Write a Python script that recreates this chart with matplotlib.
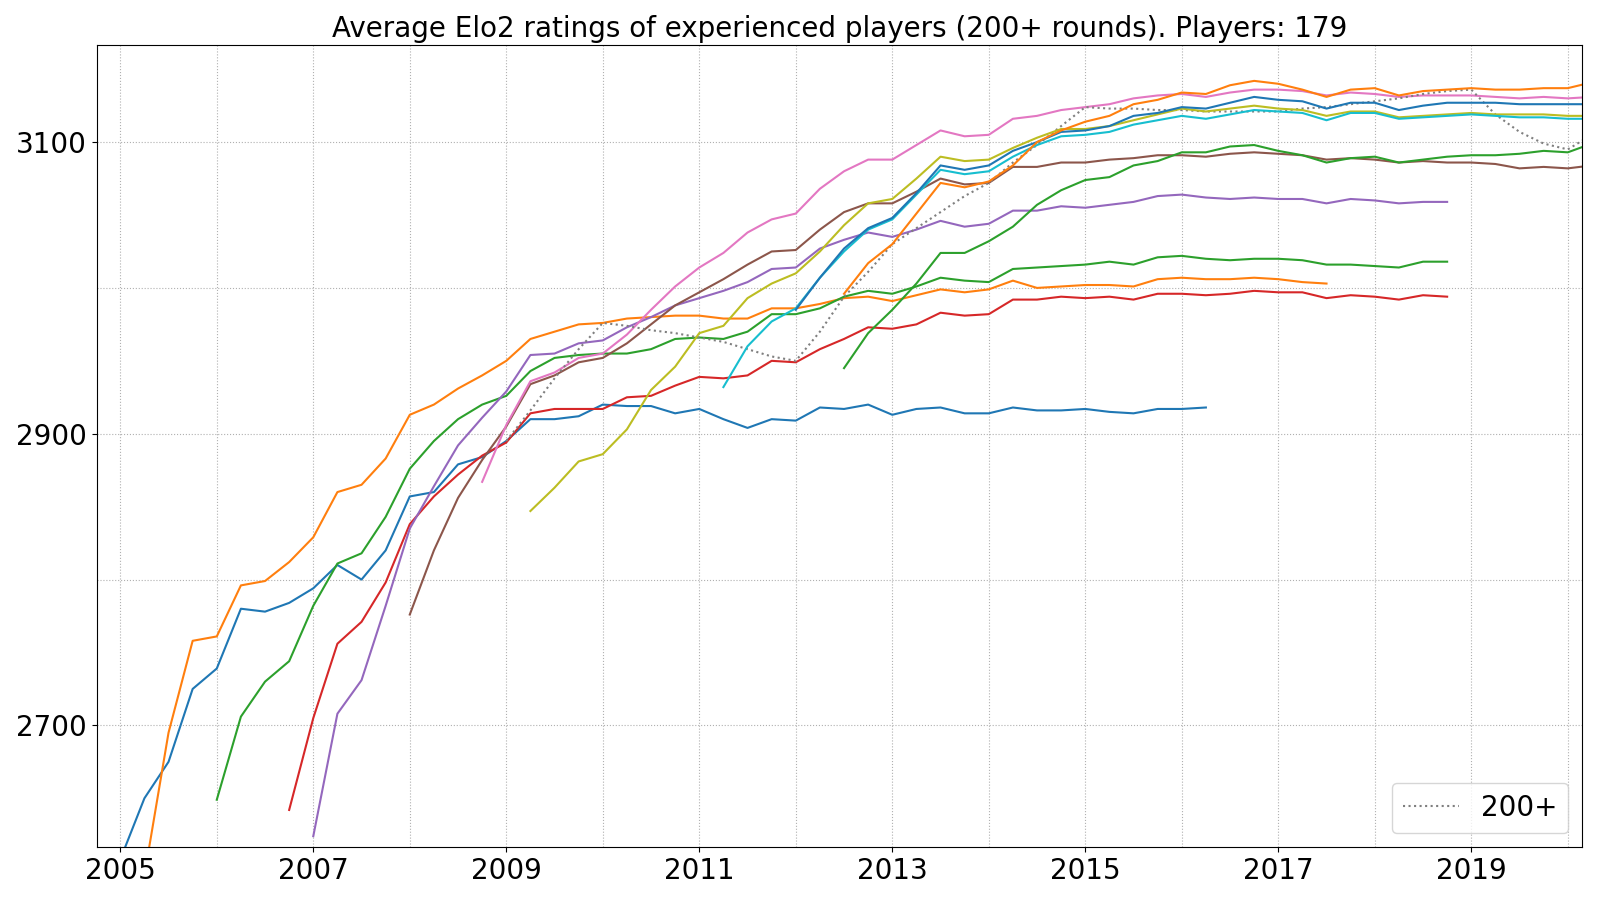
import numpy as np
import matplotlib
matplotlib.use('Agg')
import matplotlib.pyplot as plt
from matplotlib.ticker import MultipleLocator

TITLE = 'Average Elo2 ratings of experienced players (200+ rounds). Players: 179'

# quarterly ratings, each series: (first quarter, values)
blue_1_start = 2005.0
blue_1 = [2608, 2650, 2675, 2725, 2739, 2780, 2778, 2784, 2794, 2810, 2800, 2820,
          2857, 2860, 2879, 2884, 2895, 2910, 2910, 2912, 2920, 2919, 2919, 2914,
          2917, 2910, 2904, 2910, 2909, 2918, 2917, 2920, 2913, 2917, 2918, 2914,
          2914, 2918, 2916, 2916, 2917, 2915, 2914, 2917, 2917, 2918]

orange_1_start = 2005.25
orange_1 = [2597, 2695, 2758, 2761, 2796, 2799, 2812, 2829, 2860, 2865, 2883,
            2913, 2920, 2931, 2940, 2950, 2965, 2970, 2975, 2976, 2979, 2980, 2981,
            2981, 2979, 2979, 2986, 2986, 2989, 2993, 2994, 2991, 2995, 2999, 2997,
            2999, 3005, 3000, 3001, 3002, 3002, 3001, 3006, 3007, 3006, 3006, 3007,
            3006, 3004, 3003]

green_1_start = 2006.0
green_1 = [2649, 2706, 2730, 2744, 2782, 2811, 2818, 2843, 2876, 2895, 2910, 2920,
           2926, 2943, 2952, 2954, 2955, 2955, 2958, 2965, 2966, 2965, 2970, 2982,
           2982, 2986, 2994, 2998, 2996, 3001, 3007, 3005, 3004, 3013, 3014, 3015,
           3016, 3018, 3016, 3021, 3022, 3020, 3019, 3020, 3020, 3019, 3016, 3016,
           3015, 3014, 3018, 3018]

red_start = 2006.75
red = [2642, 2705, 2756, 2771, 2798, 2838, 2857, 2872, 2885, 2894, 2914, 2917,
       2917, 2917, 2925, 2926, 2933, 2939, 2938, 2940, 2950, 2949, 2958, 2965,
       2973, 2972, 2975, 2983, 2981, 2982, 2992, 2992, 2994, 2993, 2994, 2992,
       2996, 2996, 2995, 2996, 2998, 2997, 2997, 2993, 2995, 2994, 2992, 2995, 2994]

purple_start = 2007.0
purple = [2624, 2708, 2731, 2782, 2835, 2864, 2892, 2911, 2929, 2954, 2955, 2962,
          2964, 2973, 2980, 2988, 2993, 2998, 3004, 3013, 3014, 3027, 3033, 3038,
          3035, 3040, 3046, 3042, 3044, 3053, 3053, 3056, 3055, 3057, 3059, 3063,
          3064, 3062, 3061, 3062, 3061, 3061, 3058, 3061, 3060, 3058, 3059, 3059]

brown_start = 2008.0
brown = [2776, 2820, 2856, 2882, 2905, 2934, 2940, 2949, 2952, 2962, 2975, 2988,
         2997, 3006, 3016, 3025, 3026, 3040, 3052, 3058, 3058, 3066, 3075, 3071,
         3072, 3083, 3083, 3086, 3086, 3088, 3089, 3091, 3091, 3090, 3092, 3093,
         3092, 3091, 3088, 3089, 3088, 3086, 3087, 3086, 3086, 3085, 3082, 3083,
         3082, 3084]

pink_start = 2008.75
pink = [2867, 2906, 2936, 2942, 2952, 2955, 2968, 2985, 3001, 3014, 3024, 3038,
        3047, 3051, 3068, 3080, 3088, 3088, 3098, 3108, 3104, 3105, 3116, 3118,
        3122, 3124, 3126, 3130, 3132, 3133, 3131, 3134, 3136, 3136, 3135, 3132,
        3134, 3133, 3131, 3132, 3132, 3132, 3131, 3130, 3131, 3130, 3131]

avg_start = 2009.0
avg_200 = [2895, 2916, 2938, 2958, 2976, 2974, 2971, 2969, 2966, 2963, 2958, 2953,
           2950, 2970, 2994, 3011, 3030, 3041, 3052, 3063, 3072, 3086, 3098, 3111,
           3124, 3123, 3123, 3122, 3122, 3121, 3121, 3121, 3121, 3123, 3124, 3126,
           3128, 3130, 3133, 3135, 3136, 3119, 3107, 3099, 3095, 3105]

olive_start = 2009.25
olive = [2847, 2863, 2881, 2886, 2903, 2930, 2946, 2969, 2974, 2993, 3003, 3010,
         3025, 3043, 3058, 3061, 3075, 3090, 3087, 3088, 3096, 3103, 3109, 3109,
         3111, 3115, 3119, 3123, 3121, 3123, 3125, 3123, 3122, 3118, 3121, 3121,
         3117, 3118, 3119, 3120, 3119, 3119, 3119, 3118, 3118]

cyan_start = 2011.25
cyan = [2932, 2960, 2977, 2986, 3007, 3025, 3040, 3047, 3064, 3081, 3078, 3080,
        3090, 3098, 3104, 3105, 3107, 3112, 3115, 3118, 3116, 3119, 3122, 3121,
        3120, 3115, 3120, 3120, 3116, 3117, 3118, 3119, 3118, 3117, 3117, 3116, 3116]

blue_2_start = 2012.0
blue_2 = [2985, 3007, 3027, 3041, 3048, 3065, 3084, 3081, 3084, 3094, 3100, 3107,
          3108, 3111, 3118, 3120, 3124, 3123, 3127, 3131, 3129, 3128, 3123, 3127,
          3127, 3122, 3125, 3127, 3127, 3127, 3126, 3126, 3126, 3126]

orange_2_start = 2012.5
orange_2 = [2996, 3017, 3030, 3051, 3072, 3069, 3073, 3084, 3100, 3108, 3114, 3118,
            3126, 3129, 3134, 3133, 3139, 3142, 3140, 3136, 3131, 3136, 3137, 3132,
            3135, 3136, 3137, 3136, 3136, 3137, 3137, 3141]

green_2_start = 2012.5
green_2 = [2945, 2969, 2985, 3003, 3024, 3024, 3032, 3042, 3057, 3067, 3074, 3076,
           3084, 3087, 3093, 3093, 3097, 3098, 3094, 3091, 3086, 3089, 3090, 3086,
           3088, 3090, 3091, 3091, 3092, 3094, 3093, 3099]

players = [
    (blue_1_start, blue_1), (orange_1_start, orange_1), (green_1_start, green_1),
    (red_start, red), (purple_start, purple), (brown_start, brown),
    (pink_start, pink),
]
later_players = [
    (olive_start, olive), (cyan_start, cyan), (blue_2_start, blue_2),
    (orange_2_start, orange_2), (green_2_start, green_2),
]


def quarters(start, values):
    return start + 0.25 * np.arange(len(values))


fig = plt.figure(figsize=(16, 9), dpi=100)
ax = fig.add_axes([0.0604, 0.0589, 0.9285, 0.8911])

for start, values in players:
    ax.plot(quarters(start, values), values)
ax.plot(quarters(avg_start, avg_200), avg_200, ':', label='200+')
for start, values in later_players:
    ax.plot(quarters(start, values), values)

ax.set_xlim(2004.755, 2020.15)
ax.set_ylim(2616.6, 3166.6)
ax.xaxis.set_major_locator(MultipleLocator(2, offset=1))
ax.xaxis.set_minor_locator(MultipleLocator(1))
ax.yaxis.set_major_locator(MultipleLocator(200, offset=100))
ax.yaxis.set_minor_locator(MultipleLocator(100))
ax.tick_params(which='major', labelsize=20)
ax.tick_params(which='minor', length=0)
ax.grid(which='both', linestyle=':')
ax.set_title(TITLE, fontsize=20)
ax.legend(loc='lower right', fontsize=20)

fig.savefig('out.png')
